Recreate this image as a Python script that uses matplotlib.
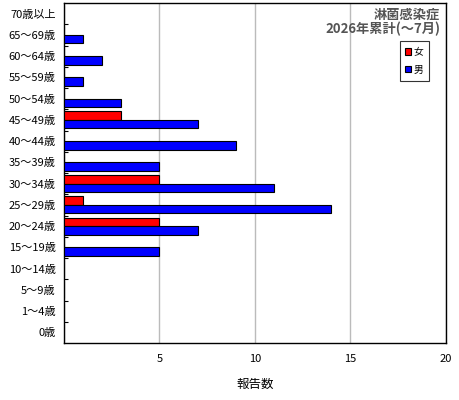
import matplotlib
matplotlib.use("Agg")
import matplotlib.pyplot as plt
import numpy as np

plt.rcParams['font.family'] = ['Noto Sans CJK JP', 'DejaVu Sans']

categories = ['0歳', '1〜4歳', '5〜9歳', '10〜14歳', '15〜19歳', '20〜24歳', '25〜29歳',
              '30〜34歳', '35〜39歳', '40〜44歳', '45〜49歳', '50〜54歳', '55〜59歳',
              '60〜64歳', '65〜69歳', '70歳以上']
female = [0, 0, 0, 0, 0, 5, 1, 5, 0, 0, 3, 0, 0, 0, 0, 0]
male = [0, 0, 0, 0, 5, 7, 14, 11, 5, 9, 7, 3, 1, 2, 1, 0]
xticks = [5, 10, 15, 20]

fig = plt.figure(figsize=(4.6, 4.0), dpi=100)
ax = fig.add_axes([64/460, 1-343/400, 382/460, 340/400])

y = np.arange(len(categories))
h = 0.4
ax.barh(y + h/2, female, height=h, color='#ff0000', edgecolor='black', linewidth=0.8, label='女', zorder=3)
ax.barh(y - h/2, male, height=h, color='#0000ff', edgecolor='black', linewidth=0.8, label='男', zorder=3)

ax.set_xlim(0, 20)
ax.set_ylim(-0.5, len(categories) - 0.5)
ax.set_xticks(xticks)
ax.set_xticklabels([str(v) for v in xticks], fontsize=8)
ax.tick_params(axis='x', length=0, pad=8)
ax.set_yticks(y)
ax.set_yticklabels(categories, fontsize=8)
ax.tick_params(axis='y', length=0, pad=6)
ax.set_yticks(np.arange(-0.5, len(categories) - 0.5, 1)[1:], minor=True)
ax.tick_params(axis='y', which='minor', direction='in', length=3, width=0.8)
ax.grid(axis='x', color='#bbbbbb', linewidth=1, zorder=0)
for s in ax.spines.values():
    s.set_linewidth(1)
ax.set_xlabel('報告数', fontsize=9, labelpad=10)

ax.text(0.985, 0.985, '淋菌感染症\n2026年累計(〜7月)', transform=ax.transAxes,
        ha='right', va='top', fontsize=9.5, fontweight='bold', color='#555555', linespacing=1.0)

leg = ax.legend(loc='upper right', bbox_to_anchor=(0.955, 0.888), fontsize=7, frameon=True,
                fancybox=False, edgecolor='black', handlelength=0.6, handleheight=0.6,
                handletextpad=0.2, borderpad=0.6, labelspacing=0.8, borderaxespad=0)
leg.get_frame().set_linewidth(0.8)

fig.savefig('out.png', dpi=100)
